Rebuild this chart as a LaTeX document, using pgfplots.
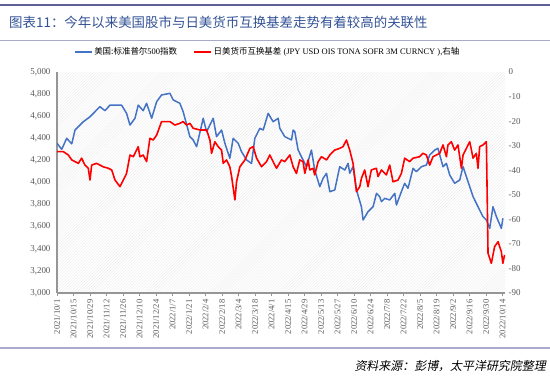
\documentclass[border=0pt]{standalone}
\usepackage{fontspec}
\setmainfont{Liberation Serif}
\newfontfamily\cjk{Noto Sans CJK SC}
\newfontfamily\cjkit[FakeSlant=0.2]{Noto Sans CJK SC}
\usepackage{pgfplots}
\pgfplotsset{compat=1.18}
\usetikzlibrary{patterns}
\definecolor{spblue}{RGB}{68,114,196}
\definecolor{titleblue}{RGB}{50,82,150}
\definecolor{topline}{RGB}{96,96,150}
\definecolor{thinline}{RGB}{170,170,205}
\definecolor{ticklab}{RGB}{89,89,89}
\definecolor{axgray}{RGB}{150,150,150}

\begin{document}
\begin{tikzpicture}[x=1bp,y=1bp]
\useasboundingbox (0,0) rectangle (550,375);
\draw[topline, line width=1.6bp] (0,370) -- (550,370);
\node[anchor=west, text=titleblue, inner sep=0] at (9,353) {\cjk\fontsize{13.5}{15}\selectfont 图表11：今年以来美国股市与日美货币互换基差走势有着较高的关联性};
\draw[thinline, line width=1bp] (0,335) -- (550,335);
\draw[thinline, line width=1.2bp] (0,27) -- (550,27);
\node[anchor=east, inner sep=0] at (546,9) {\cjkit\fontsize{12}{14}\selectfont 资料来源：彭博，太平洋研究院整理};

\begin{axis}[
  at={(57bp,82bp)}, anchor=south west,
  scale only axis, width=448bp, height=221bp,
  xmin=0, xmax=380, ymin=3000, ymax=5000,
  axis x line*=bottom, axis y line*=left,
  axis line style={-, axgray, line width=1.1bp},
  axis background/.style={pattern=north east lines, pattern color=black!8},
  xtick={0,14,...,378},
  xticklabels={2021/10/1,2021/10/15,2021/10/29,2021/11/12,2021/11/26,2021/12/10,2021/12/24,2022/1/7,2022/1/21,2022/2/4,2022/2/18,2022/3/4,2022/3/18,2022/4/1,2022/4/15,2022/4/29,2022/5/13,2022/5/27,2022/6/10,2022/6/24,2022/7/8,2022/7/22,2022/8/5,2022/8/19,2022/9/2,2022/9/16,2022/9/30,2022/10/14},
  xticklabel style={rotate=90, anchor=east, font=\fontsize{8.6}{9}\selectfont, text=ticklab},
  x tick style={axgray, line width=0.8bp},
  tick align=outside, major tick length=3bp,
  ytick={3000,3200,...,5000},
  y tick style={draw=none},
  yticklabel style={font=\fontsize{9}{10}\selectfont, text=ticklab},
  /pgf/number format/.cd, 1000 sep={,}, assume math mode=true,
]
\addplot[spblue, line width=1.5bp, line join=round] coordinates {
(0,4355) (4,4300) (8.2,4400) (12.5,4350) (15.3,4475) (22.3,4550) (28,4595) (36.4,4686) (40.7,4650) (44.9,4700) (54.8,4700) (59,4626) (61.9,4520) (66.1,4580) (68.9,4700) (73.1,4650) (76,4717) (80.3,4581) (84.5,4731) (88.7,4792) (95.8,4807) (98.6,4747) (104.2,4717) (107,4641) (112.7,4415) (115.5,4385) (118.4,4324) (124,4581) (126.9,4460) (132.5,4581) (135.3,4415) (139.6,4475) (142.4,4355) (146.6,4219) (149.4,4400) (153.7,4355) (156.5,4279) (160.8,4204) (165,4173) (167.8,4400) (172,4490) (174.9,4475) (179.1,4626) (183.3,4550) (187.6,4581) (189,4490) (193.2,4415) (198.9,4385) (200.3,4475) (201.7,4460) (204.5,4294) (208.7,4204) (211.6,4143) (215.8,4294) (218.6,4113) (222.9,3962) (225.7,4038) (228.6,4083) (231.4,3917) (235.6,3932) (239.8,4143) (244.1,4113) (246.9,4173) (248.3,4083) (251.1,4143) (254,3932) (258.2,3781) (259.6,3661) (263.8,3736) (268.1,3781) (271,3902) (273.7,3872) (275.2,3827) (278,3857) (282.2,3842) (286.5,3902) (287.9,3796) (292.1,3917) (294.9,3993) (297.7,3947) (302,4128) (304.8,4098) (309.1,4143) (313.3,4158) (316.1,4249) (320.4,4294) (323.1,4309) (327.4,4143) (330.3,4173) (333.1,4068) (337.3,3993) (341.6,4023) (344.4,4143) (347.2,4053) (350.1,3962) (352.9,3872) (357.1,3781) (361.3,3691) (364.2,3661) (367,3585) (369.8,3781) (372.7,3691) (376.9,3585) (378.2,3676)
};
\end{axis}

\begin{axis}[
  at={(57bp,82bp)}, anchor=south west,
  scale only axis, width=448bp, height=221bp,
  xmin=0, xmax=380, ymin=-90, ymax=0,
  axis x line=none, axis y line*=right,
  axis line style={draw=none},
  ytick={-90,-80,...,0},
  y tick style={draw=none},
  yticklabel style={font=\fontsize{9}{10}\selectfont, text=ticklab},
  /pgf/number format/assume math mode=true,
  legend columns=2,
  legend style={draw=none, fill=none, at={(0.47,1.09)}, anchor=center,
    font=\fontsize{8.5}{10}\selectfont, /tikz/every even column/.append style={column sep=14bp}},
]
\addlegendimage{spblue, line width=1.5bp}
\addlegendentry{{\cjk 美国:标准普尔}500{\cjk 指数}}
\addplot[red, line width=1.6bp, line join=round] coordinates {
(0,-32.4) (5.3,-32.4) (9.6,-33.8) (12.5,-35.8) (18.1,-37.2) (20.9,-35.1) (23.7,-37.9) (26.5,-39.2) (28,-44) (29.4,-37.9) (33.6,-37.2) (39.2,-38.6) (43.5,-39.2) (46.4,-39.9) (49.2,-44) (53.4,-46.7) (56.2,-44) (59,-41.3) (61.9,-33.8) (64.7,-34.5) (68.9,-30.4) (70.3,-34.5) (73.1,-33.8) (76,-36.5) (78.8,-27) (81.6,-27.7) (84.5,-25.7) (88.7,-20.2) (95.8,-20.2) (100,-21.6) (104.2,-20.9) (107,-20.2) (109.9,-21.6) (112.7,-20.9) (115.5,-22.9) (121.2,-23.6) (126.9,-23.6) (129.7,-27.7) (131.1,-33.1) (133.9,-28.4) (136.7,-30.4) (139.6,-31.8) (141,-37.2) (143.8,-35.8) (146.6,-38.6) (148.1,-42.6) (150.9,-52.1) (152.3,-44.7) (155.1,-38.6) (159.4,-35.8) (163.6,-31.1) (166.4,-30.4) (169.3,-35.1) (173.5,-38.6) (177.7,-36.5) (180.5,-33.8) (183.3,-36.5) (186.2,-39.2) (190.4,-35.8) (193.2,-36.5) (197.5,-33.8) (200.3,-38.6) (203.1,-41.3) (205.9,-35.8) (208.7,-36.5) (210.2,-41.3) (213,-35.8) (214.4,-39.9) (217.2,-39.2) (218.6,-41.9) (221.5,-36.5) (224.3,-34.5) (228.6,-35.8) (231.4,-33.8) (235.6,-31.8) (239.8,-31.1) (242.6,-30.4) (245.5,-27.7) (248.3,-31.8) (251.1,-37.2) (254,-48.7) (256.8,-46.7) (258.2,-43.3) (261,-39.9) (263.8,-46.7) (266.6,-39.9) (270.9,-39.2) (272.3,-42.6) (275.2,-39.9) (279.4,-41.9) (282.2,-37.9) (285,-44.7) (289.3,-44) (292.1,-41.3) (294.9,-35.1) (299.1,-36.5) (302,-35.1) (307.6,-34.5) (310.4,-33.1) (313.3,-33.8) (316.1,-37.9) (318.9,-34.5) (321.8,-33.8) (324.6,-33.1) (327.4,-29.7) (330.3,-34.5) (331.6,-29.7) (334.5,-28.4) (337.3,-31.8) (340.1,-29.7) (343,-39.2) (344.4,-33.8) (347.2,-31.1) (350.1,-28.4) (352.9,-35.1) (355.7,-33.1) (357.1,-39.2) (358.5,-30.4) (361.3,-29.7) (364.2,-28.4) (365.6,-73.8) (368.4,-77.9) (371.2,-71.1) (374.1,-69.1) (376.9,-73.2) (378.2,-77.9) (379.6,-74.5)
};
\addlegendentry{{\cjk 日美货币互换基差} (JPY USD OIS TONA SOFR 3M CURNCY ),{\cjk 右轴}}
\end{axis}
\end{tikzpicture}
\end{document}
